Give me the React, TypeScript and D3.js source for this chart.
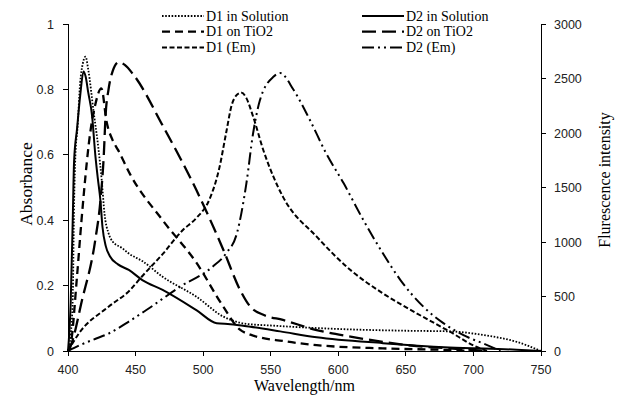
import React from "react";
import * as d3 from "d3";

// absorbance (left axis)
const d1Solution = [
  [400, 0], [402, 0.05], [403.5, 0.16], [404.5, 0.45], [405.5, 0.6], [407, 0.68], [409, 0.82],
  [411, 0.88], [413, 0.9], [415, 0.86], [419, 0.73], [422.5, 0.62], [425, 0.52], [427, 0.42],
  [430, 0.36], [433, 0.335], [440, 0.315], [445, 0.298], [455, 0.275], [470, 0.227], [495, 0.166],
  [515, 0.105], [532, 0.083], [550, 0.078], [575, 0.072], [609, 0.066], [650, 0.062], [683, 0.06],
  [707, 0.049], [732, 0.028], [750, 0],
];
const d2Solution = [
  [400, 0], [402, 0.15], [403.5, 0.4], [404.5, 0.58], [406.7, 0.68], [409, 0.78], [411.5, 0.855],
  [413, 0.84], [415, 0.79], [417.8, 0.72], [420.2, 0.6], [422, 0.53], [424, 0.46], [425.5, 0.38],
  [428, 0.32], [431, 0.29], [437, 0.265], [445, 0.248], [455, 0.217], [470, 0.187], [495, 0.125],
  [510, 0.085], [520, 0.082], [535, 0.074], [557, 0.06], [584, 0.042], [633, 0.024], [682, 0.011],
  [732, 0.004], [750, 0],
];
const d1TiO2 = [
  [400, 0], [402, 0.02], [406.7, 0.23], [410, 0.4], [414, 0.58], [415.3, 0.63], [420, 0.75],
  [424.7, 0.803], [428.6, 0.7], [433, 0.645], [437, 0.615], [446, 0.54], [470, 0.4], [495, 0.27],
  [515, 0.135], [527, 0.066], [535, 0.05], [560, 0.03], [584, 0.018], [633, 0.008], [682, 0.003],
  [700, 0],
];
const d2TiO2 = [
  [400, 0], [401.7, 0.013], [410.4, 0.156], [420.2, 0.34], [424, 0.46], [426.5, 0.6], [427.8, 0.72],
  [430, 0.8], [433, 0.855], [437.5, 0.883], [442, 0.875], [448.6, 0.844], [470.5, 0.686],
  [495, 0.492], [515, 0.309], [527.3, 0.187], [535, 0.135], [545, 0.11], [559, 0.095], [584, 0.064],
  [609, 0.044], [633, 0.028], [658, 0.015], [682, 0.008], [710, 0],
];

// fluorescence (right axis)
const d1Em = [
  [400, 0], [408, 160], [430, 406], [446, 560], [453.5, 667], [470.5, 896], [485, 1110], [495, 1220],
  [505, 1400], [512, 1680], [517, 2000], [521, 2250], [525, 2350], [528.5, 2370], [532, 2320],
  [537, 2150], [544.5, 1844], [552, 1599], [559, 1416], [584, 1049], [609, 743], [633, 529],
  [658, 346], [682.6, 177], [702, 39], [710, 0],
];
const d2Em = [
  [400, 0], [410, 60], [420, 110], [430, 160], [445, 270], [458, 376], [483, 590], [507, 773],
  [517, 896], [525, 1080], [532, 1538], [537, 2000], [542, 2300], [552, 2516], [557, 2550],
  [567, 2394], [579, 2119], [591, 1814], [604, 1538], [618.5, 1202], [633, 896], [646, 651],
  [663, 406], [678, 254], [695, 131], [707, 71], [720, 0],
];

const xTicks = [400, 450, 500, 550, 600, 650, 700, 750];
const absTicks = [0, 0.2, 0.4, 0.6, 0.8, 1];
const fluTicks = [0, 500, 1000, 1500, 2000, 2500, 3000];

const width = 618;
const height = 396;
const left = 68;
const right = 541;
const top = 24;
const bottom = 351;

const serif = "'Liberation Serif', 'Times New Roman', serif";
const sans = "'Liberation Sans', Arial, sans-serif";

const styles: Record<string, { dash: string; w: number }> = {
  d1Solution: { dash: "1.6 1.6", w: 1.8 },
  d2Solution: { dash: "none", w: 2 },
  d1TiO2: { dash: "8 5", w: 2.3 },
  d2TiO2: { dash: "14 6", w: 2.3 },
  d1Em: { dash: "5 2.5", w: 2 },
  d2Em: { dash: "12 4 2 4 2 4", w: 2 },
};

const legendItems = [
  { key: "d1Solution", label: "D1 in Solution", col: 0, row: 0 },
  { key: "d1TiO2", label: "D1 on TiO2", col: 0, row: 1 },
  { key: "d1Em", label: "D1 (Em)", col: 0, row: 2 },
  { key: "d2Solution", label: "D2 in Solution", col: 1, row: 0 },
  { key: "d2TiO2", label: "D2 on TiO2", col: 1, row: 1 },
  { key: "d2Em", label: "D2 (Em)", col: 1, row: 2 },
];

export default function App() {
  const x = d3.scaleLinear([400, 750], [left, right]);
  const yAbs = d3.scaleLinear([0, 1], [bottom, top]);
  const yFlu = d3.scaleLinear([0, 3000], [bottom, top]);

  const lineAbs = d3
    .line<number[]>()
    .x((d) => x(d[0]))
    .y((d) => yAbs(d[1]))
    .curve(d3.curveMonotoneX);
  const lineFlu = d3
    .line<number[]>()
    .x((d) => x(d[0]))
    .y((d) => yFlu(d[1]))
    .curve(d3.curveMonotoneX);

  const series = [
    { key: "d1Solution", d: lineAbs(d1Solution) },
    { key: "d2Solution", d: lineAbs(d2Solution) },
    { key: "d1TiO2", d: lineAbs(d1TiO2) },
    { key: "d2TiO2", d: lineAbs(d2TiO2) },
    { key: "d1Em", d: lineFlu(d1Em) },
    { key: "d2Em", d: lineFlu(d2Em) },
  ];

  return (
    <svg
      width={width}
      height={height}
      style={{ position: "absolute", top: 0, left: 0, background: "#fff" }}
    >
      {/* curves */}
      <g fill="none" stroke="#000">
        {series.map((s) => (
          <path
            key={s.key}
            d={s.d || ""}
            strokeWidth={styles[s.key].w}
            strokeDasharray={styles[s.key].dash}
          />
        ))}
      </g>

      {/* axes */}
      <g stroke="#000" strokeWidth={1} shapeRendering="crispEdges">
        <line x1={left} x2={right} y1={bottom} y2={bottom} />
        <line x1={left} x2={left} y1={top} y2={bottom} />
        <line x1={right} x2={right} y1={top} y2={bottom} />
        {xTicks.map((t) => (
          <line key={"xt" + t} x1={x(t)} x2={x(t)} y1={bottom} y2={bottom + 5} />
        ))}
        {absTicks.map((t) => (
          <line key={"lt" + t} x1={left - 5} x2={left} y1={yAbs(t)} y2={yAbs(t)} />
        ))}
        {fluTicks.map((t) => (
          <line key={"rt" + t} x1={right} x2={right + 5} y1={yFlu(t)} y2={yFlu(t)} />
        ))}
      </g>

      <g fontFamily={sans} fontSize={12.5} fill="#222">
        {xTicks.map((t) => (
          <text key={"xl" + t} x={x(t)} y={374} textAnchor="middle">
            {t}
          </text>
        ))}
        {absTicks.map((t) => (
          <text key={"ll" + t} x={left - 14} y={yAbs(t) + 4.5} textAnchor="end">
            {d3.format("~g")(t)}
          </text>
        ))}
        {fluTicks.map((t) => (
          <text key={"rl" + t} x={right + 13} y={yFlu(t) + 4.5} textAnchor="start">
            {t}
          </text>
        ))}
      </g>

      {/* axis titles */}
      <g fontFamily={serif} fontSize={16} fill="#000">
        <text x={(left + right) / 2} y={391} textAnchor="middle">
          Wavelength/nm
        </text>
        <text transform={`translate(32,184) rotate(-90)`} textAnchor="middle" fontSize={17.5}>
          Absorbance
        </text>
        <text transform={`translate(610,180) rotate(-90)`} textAnchor="middle">
          Flurescence intensity
        </text>
      </g>

      {/* legend */}
      <g fontFamily={serif} fontSize={14} fill="#000">
        {legendItems.map((it) => {
          const lx = it.col === 0 ? 162 : 362;
          const ly = 16 + it.row * 15.7;
          return (
            <g key={it.key}>
              <line
                x1={lx}
                x2={lx + 42}
                y1={ly}
                y2={ly}
                stroke="#000"
                strokeWidth={styles[it.key].w}
                strokeDasharray={styles[it.key].dash}
              />
              <text x={lx + 44} y={ly + 4.5}>
                {it.label}
              </text>
            </g>
          );
        })}
      </g>
    </svg>
  );
}
